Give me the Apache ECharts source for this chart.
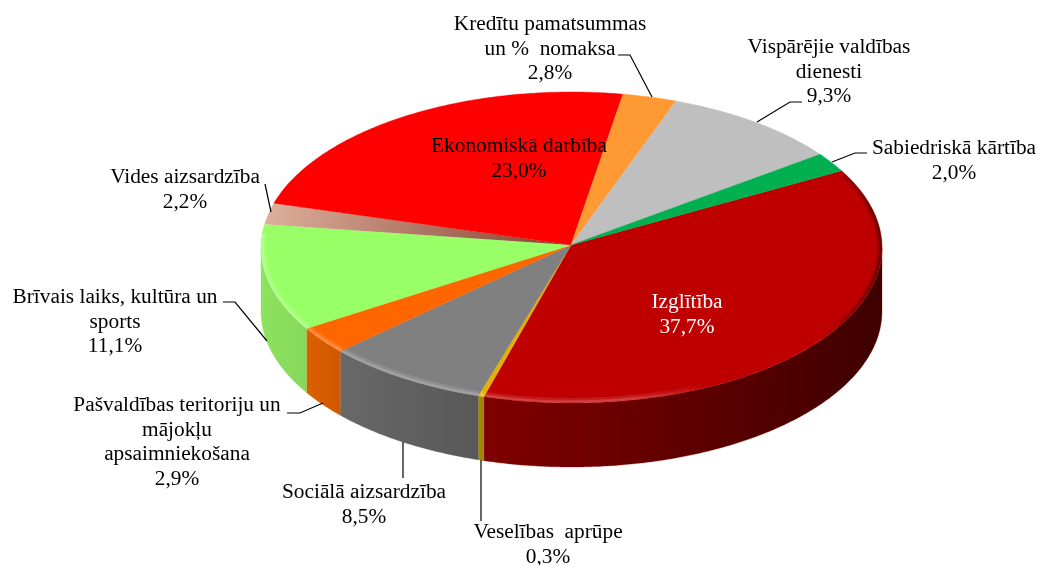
<!DOCTYPE html>
<html lang="lv">
<head>
  <meta charset="UTF-8">
  <title>Izdevumi</title>
  <script src="https://cdn.jsdelivr.net/npm/echarts@6/dist/echarts.min.js"></script>
  <style>html,body{margin:0;background:#fff}</style>
</head>
<body>
<div id="chart" style="width:1040px;height:565px"></div>
<script>
// slice data, clockwise from the Izglitiba edge
var names = ['Izglītība', 'Veselības  aprūpe', 'Sociālā aizsardzība',
  'Pašvaldības teritoriju un\nmājokļu\napsaimniekošana', 'Brīvais laiks, kultūra un\nsports',
  'Vides aizsardzība', 'Ekonomiskā darbība', 'Kredītu pamatsummas\nun %  nomaksa',
  'Vispārējie valdības\ndienesti', 'Sabiedriskā kārtība'];
var values = [37.7, 0.3, 8.5, 2.9, 11.1, 2.2, 23.0, 2.8, 9.3, 2.0];

// look of each slice, same order as above
var topColors = ['#bf0000', '#e6b000', '#808080', '#ff6600', '#99ff66', '#c98f7c', '#ff0000', '#ff9933', '#bfbfbf', '#00b050'];
var wallLeft = ['#800000', '#a98800', '#686868', '#dc6000', '#8de25e', '#a87868', '#c00000', '#cc7a28', '#999999', '#008c40'];
var wallRight = ['#3f0000', '#a08000', '#585858', '#d05800', '#86d85a', '#a87868', '#c00000', '#cc7a28', '#999999', '#008c40'];

// label centre (first line) and leader line, page pixels
var labelAt = [[687, 302], [548, 532], [364, 492], [177, 405], [115, 297], [185, 177], [519, 146], [550, 24], [829, 47], [954, 148]];
var leaders = [null, [[481, 460], [481, 521]], [[403, 442], [403, 478]],
  [[287, 413], [300, 413], [323, 403]], [[223, 302], [235, 302], [267, 341]],
  [[265, 184], [271, 212]], null, [[618, 55], [630, 55], [652, 97]],
  [[802, 102], [790, 102], [757, 122]], [[867, 153], [855, 153], [832, 162]]];

var apex = [571, 245];
var cx = 571.5, cy = 247.5, rx = 310.5, ry = 155.5, depth = 64, startDeg = 60.4;
var total = values.reduce(function (a, b) { return a + b; }, 0);

// point on the rim, inset px towards the middle
function rim(deg, inset) {
  var a = deg * Math.PI / 180;
  return [cx + (rx - inset) * Math.sin(a), cy - (ry - inset) * Math.cos(a)];
}
function arc(from, to, inset, dy) {
  var pts = [], n = Math.max(2, Math.ceil((to - from) * 2));
  for (var i = 0; i <= n; i++) {
    var p = rim(from + (to - from) * i / n, inset);
    pts.push([p[0], p[1] + dy]);
  }
  return pts;
}
function hGrad(c1, c2, x1, x2) {
  return { type: 'linear', x: x1, y: 0, x2: x2, y2: 0, global: true,
    colorStops: [{ offset: 0, color: c1 }, { offset: 1, color: c2 }] };
}

var bounds = [], acc = startDeg;
values.forEach(function (v) {
  bounds.push([acc, acc + v / total * 360]);
  acc += v / total * 360;
});

function bevelStroke(scale) {
  return { type: 'linear', x: 261, y: 0, x2: 882, y2: 0, global: true, colorStops: [
    { offset: 0, color: 'rgba(255,255,255,' + 0.2 * scale + ')' }, { offset: 0.6, color: 'rgba(255,255,255,' + 0.2 * scale + ')' },
    { offset: 0.72, color: 'rgba(255,255,255,0)' }, { offset: 0.9, color: 'rgba(0,0,0,0)' },
    { offset: 1, color: 'rgba(0,0,0,' + 0.4 * scale + ')' }] };
}

function renderSlice(params, api) {
  var i = api.value(0), from = bounds[i][0], to = bounds[i][1], kids = [];
  // front wall only where the rim faces the viewer
  var w1 = Math.max(from, 90), w2 = Math.min(to, 270);
  if (w2 > w1) {
    var upper = arc(w1, w2, 0, 0), lower = arc(w1, w2, 0, depth).reverse();
    var xs = upper.map(function (p) { return p[0]; });
    kids.push({ type: 'polygon', shape: { points: upper.concat(lower) },
      style: { fill: hGrad(wallLeft[i], wallRight[i], Math.min.apply(null, xs), Math.max.apply(null, xs)),
        stroke: wallLeft[i], lineWidth: 0.3 } });
  }
  var fill = topColors[i];
  if (i === 5) { // environment slice fades towards the centre
    var m = rim((from + to) / 2, 0);
    fill = { type: 'linear', x: m[0], y: m[1], x2: apex[0], y2: apex[1], global: true,
      colorStops: [{ offset: 0, color: '#dcae9b' }, { offset: 1, color: '#84402e' }] };
  }
  kids.push({ type: 'polygon', shape: { points: [apex].concat(arc(from, to, 0, 0)) },
    style: { fill: fill, stroke: i === 5 ? null : topColors[i], lineWidth: 0.4 } });
  // bevel along the rim: light on the left and front, dark on the right, two widths for a soft edge
  var b1 = Math.max(from, 62), b2 = Math.min(to, 275);
  if (b2 > b1) {
    kids.push({ type: 'polyline', shape: { points: arc(b1, b2, 2.6, 0) },
      style: { fill: null, lineWidth: 5, stroke: bevelStroke(0.5) } });
    kids.push({ type: 'polyline', shape: { points: arc(b1, b2, 1.4, 0) },
      style: { fill: null, lineWidth: 2.5, stroke: bevelStroke(0.8) } });
  }
  return { type: 'group', children: kids };
}

function renderLabel(params, api) {
  var i = api.value(0), kids = [];
  if (leaders[i]) {
    kids.push({ type: 'polyline', shape: { points: leaders[i] },
      style: { fill: null, stroke: '#000', lineWidth: 1.2 } });
  }
  kids.push({ type: 'text', x: labelAt[i][0], y: labelAt[i][1] - 12, style: {
    text: names[i] + '\n' + values[i].toFixed(1).replace('.', ',') + '%',
    fill: i === 0 ? '#fff' : '#000', align: 'center', verticalAlign: 'top',
    font: '21.33px "Liberation Serif"', lineHeight: 24.6 } });
  return { type: 'group', children: kids };
}

var chart = echarts.init(document.getElementById('chart'), null, { renderer: 'canvas' });
var rows = values.map(function (v, i) { return [i, v]; });
chart.setOption({
  animation: false,
  backgroundColor: '#fff',
  series: [
    { type: 'custom', coordinateSystem: 'none', data: rows, renderItem: renderSlice, silent: true },
    { type: 'custom', coordinateSystem: 'none', data: rows, renderItem: renderLabel, silent: true, z: 5 }
  ]
});
</script>
</body>
</html>
